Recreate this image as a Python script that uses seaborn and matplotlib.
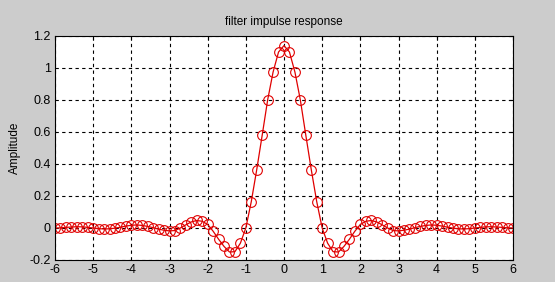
import numpy as np
import matplotlib
matplotlib.use("Agg")
import matplotlib.pyplot as plt
import seaborn as sns
from matplotlib.ticker import FuncFormatter

# sample positions: -6..6 in steps of 1/7
x_start, x_stop, n_points = -6, 6, 85
# right half amplitudes (x = 0, 1/7, ..., 6)
half_values = [1.14, 1.10, 0.975, 0.80, 0.58, 0.365, 0.165, 0.0,
               -0.095, -0.148, -0.15, -0.115, -0.07, -0.02, 0.022, 0.042,
               0.047, 0.038, 0.02, 0.0, -0.016, -0.018, -0.014, -0.007,
               0.002, 0.010, 0.016, 0.019, 0.017, 0.012, 0.005, -0.001,
               -0.005, -0.006, -0.004, 0.000, 0.004, 0.007, 0.008, 0.006,
               0.004, 0.001, 0.000]
amplitude = half_values[:0:-1] + half_values
x_ticks = [-6, -5, -4, -3, -2, -1, 0, 1, 2, 3, 4, 5, 6]
y_ticks = [-0.2, 0, 0.2, 0.4, 0.6, 0.8, 1.0, 1.2]
title = "filter impulse response"
ylabel = "Amplitude"

x = np.linspace(x_start, x_stop, n_points)

sns.set_theme(style="white")
plt.rcParams['font.family'] = ['Liberation Sans', 'DejaVu Sans']
plt.rcParams['axes.unicode_minus'] = False

fig = plt.figure(figsize=(5.55, 2.82), dpi=100, facecolor="#cccccc")
ax = fig.add_axes([55/555, 1-260/282, (513-55)/555, (260-36)/282])
ax.set_facecolor("white")

red = "#e00000"
sns.lineplot(x=x, y=amplitude, ax=ax, color=red, linewidth=0.9,
             marker="o", markersize=7, markerfacecolor="none",
             markeredgecolor=red, markeredgewidth=0.8)

ax.set_xlim(-6, 6)
ax.set_ylim(-0.2, 1.2)
ax.set_xticks(x_ticks)
ax.set_yticks(y_ticks)
ax.xaxis.set_major_formatter(FuncFormatter(lambda v, p: f"{v:g}"))
ax.yaxis.set_major_formatter(FuncFormatter(lambda v, p: f"{v:g}"))
ax.grid(True, color="black", linestyle=(0, (3, 3)), linewidth=0.8)
ax.set_axisbelow(True)
for s in ax.spines.values():
    s.set_color("black")
    s.set_linewidth(0.8)
ax.tick_params(axis="both", direction="in", length=3, width=0.8,
               colors="black", labelsize=9, pad=3,
               top=True, right=True)
ax.set_title(title, fontsize=8.5, color="black", pad=8)
ax.set_ylabel(ylabel, fontsize=8.5, color="black", labelpad=6)

fig.savefig("out.png", dpi=100, facecolor=fig.get_facecolor())
